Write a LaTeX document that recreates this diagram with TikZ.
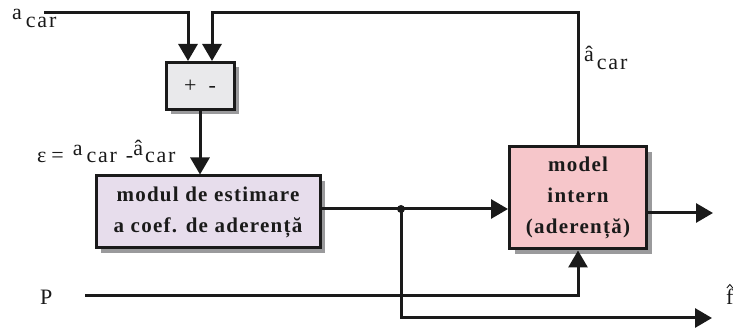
\documentclass[tikz,border=0pt]{standalone}
\usepackage{fontspec}
\setmainfont{Liberation Serif}
\newfontfamily\boxfont[LetterSpace=6]{Liberation Serif}
\newfontfamily\lblfont[LetterSpace=8]{Liberation Serif}
\usetikzlibrary{arrows.meta,shadows}

\definecolor{sumfill}{HTML}{E9E9EB}
\definecolor{estfill}{HTML}{E7DDEC}
\definecolor{modfill}{HTML}{F6C6CA}
\definecolor{shadowgray}{HTML}{9A9A9C}
\definecolor{ink}{HTML}{1A1A1A}

% subscript set one step lower, same size
\newcommand{\lowcar}{\raisebox{-8pt}{car}}

\tikzset{
  blockbox/.style={draw=ink, line width=3pt, rectangle, inner sep=0pt,
    align=center, text=ink,
    font=\boxfont\bfseries\fontsize{21}{31}\selectfont,
    drop shadow={shadow xshift=5pt, shadow yshift=-5pt, fill=shadowgray, opacity=1}},
  wire/.style={draw=ink, line width=3pt},
  flow/.style={wire, -{Triangle[length=17pt,width=19pt]}},
  lbl/.style={inner sep=0pt, text=ink, font=\lblfont\fontsize{22}{24}\selectfont}
}

\begin{document}
\begin{tikzpicture}[x=1pt, y=-1pt]
  \useasboundingbox (0,0) rectangle (733,328);

  % blocks
  \node[blockbox, fill=sumfill, minimum width=68pt, minimum height=47pt,
        font=\lblfont\fontsize{22}{24}\selectfont] (sum) at (200,86) {+\hspace{12pt}-};
  \node[blockbox, fill=estfill, minimum width=224pt, minimum height=72pt] (est) at (208,212)
        {modul de estimare\\a coef. de aderență};
  \node[blockbox, fill=modfill, minimum width=137pt, minimum height=102pt] (model) at (578,198)
        {model\\intern\\(aderență)};

  % free ends and branch point
  \coordinate (ain)  at (44,13);
  \coordinate (topy) at (0,13);
  \coordinate (dot)  at (401,209);
  \coordinate (outR) at (713,213);
  \coordinate (pin)  at (85,296);
  \coordinate (fend) at (712,318);

  % connectors
  \draw[flow] (ain) -| ([xshift=-12pt]sum.north);
  \draw[flow] (model.north) -- (model.north |- topy) -| ([xshift=12pt]sum.north);
  \draw[flow] (sum.south) -- (sum.south |- est.north);
  \draw[wire] (est.east |- dot) -- (dot);
  \draw[flow] (dot) -- (dot -| model.west);
  \draw[flow] (model.east |- outR) -- (outR);
  \draw[flow] (pin) -| (model.south);
  \draw[flow] (dot) |- (fend);
  \fill[ink] (dot) circle (4pt);

  % labels
  \node[lbl, anchor=base west] (lacar) at (12,20) {a\hspace{4pt}\lowcar};
  \node[lbl, anchor=base west] (lhat) at (584,62) {â\hspace{3pt}\lowcar};
  \node[lbl, anchor=base west] (leps) at (37,163)
        {ε\hspace{5pt}=\hspace{9pt}\raisebox{7pt}{a}\hspace{4pt}car\hspace{9pt}-\raisebox{7pt}{â}\hspace{2pt}car};
  \node[lbl, anchor=base west] (lp) at (40,305) {P};
  \node[lbl, anchor=base west] (lf) at (726,305) {f};
  % circumflex over the f
  \draw[ink, line width=0.9pt, line join=miter]
    ([xshift=-3pt,yshift=17pt]lf.base) -- ([yshift=20.5pt]lf.base) -- ([xshift=3pt,yshift=17pt]lf.base);
\end{tikzpicture}
\end{document}
